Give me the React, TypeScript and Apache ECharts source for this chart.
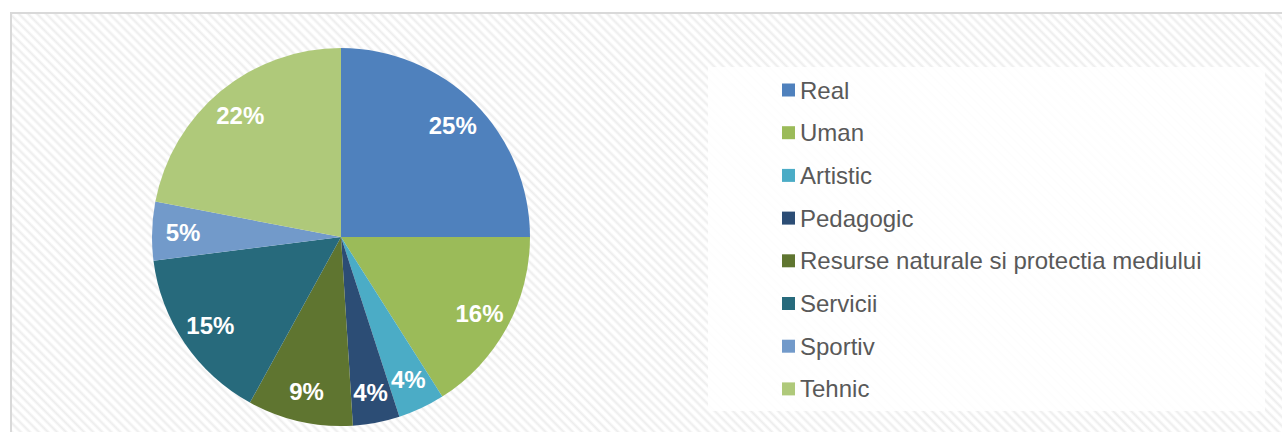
import React, { useEffect, useRef } from "react";
import * as echarts from "echarts";

const categories = [
  "Real",
  "Uman",
  "Artistic",
  "Pedagogic",
  "Resurse naturale si protectia mediului",
  "Servicii",
  "Sportiv",
  "Tehnic",
];
const values = [25, 16, 4, 4, 9, 15, 5, 22];
const colors = [
  "#4F81BD",
  "#9BBB59",
  "#4BACC6",
  "#2C4D75",
  "#5F7530",
  "#276A7C",
  "#729ACA",
  "#AFC97A",
];

export default function App() {
  const ref = useRef<HTMLDivElement>(null);

  useEffect(() => {
    document.body.style.margin = "0";
    if (!ref.current) return;
    const chart = echarts.init(ref.current, undefined, { renderer: "svg" });
    const data = categories.map((name, i) => ({
      name,
      value: values[i],
      itemStyle: { color: colors[i] },
    }));
    chart.setOption({
      animation: false,
      backgroundColor: "transparent",
      graphic: [
        {
          type: "rect",
          z: 0,
          silent: true,
          shape: { x: 708, y: 67, width: 557, height: 344 },
          style: { fill: "rgba(255,255,255,0.88)" },
        },
      ],
      legend: {
        orient: "vertical",
        left: 782,
        top: 78,
        padding: 0,
        itemWidth: 13,
        itemHeight: 13,
        itemGap: 18.7,
        icon: "rect",
        selectedMode: false,
        textStyle: {
          fontFamily: "Liberation Sans, Arial, sans-serif",
          fontSize: 24,
          lineHeight: 24,
          color: "#595959",
        },
        data: categories.map((name, i) => ({
          name,
          itemStyle: { color: colors[i] },
        })),
      },
      series: [
        {
          type: "pie",
          center: [341, 237],
          radius: [0, 189],
          startAngle: 90,
          clockwise: true,
          label: { show: false },
          labelLine: { show: false },
          emphasis: { disabled: true },
          data,
        },
        {
          type: "pie",
          center: [341, 237],
          radius: [0, 310],
          startAngle: 90,
          clockwise: true,
          silent: true,
          legendHoverLink: false,
          itemStyle: { color: "rgba(0,0,0,0)", borderWidth: 0 },
          emphasis: { disabled: true },
          labelLine: { show: false },
          label: {
            show: true,
            position: "inside",
            formatter: (p: any) => `${p.value}%`,
            color: "#FFFFFF",
            fontWeight: "bold",
            fontSize: 24,
            fontFamily: "Liberation Sans, Arial, sans-serif",
          },
          data: categories.map((name, i) => ({
            name: name + " ",
            value: values[i],
          })),
        },
      ],
    });
    return () => chart.dispose();
  }, []);

  return (
    <div
      style={{
        position: "relative",
        width: 1282,
        height: 432,
        overflow: "hidden",
        background: "#fff",
      }}
    >
      <div
        style={{
          position: "absolute",
          left: 10,
          top: 12,
          width: 1300,
          height: 450,
          border: "2px solid #D9D9D9",
          background:
            "repeating-linear-gradient(45deg, #ffffff 0px, #ffffff 1px, #ededed 3.2px, #ffffff 5.4px, #ffffff 6.4px)",
        }}
      />
      <div
        ref={ref}
        style={{ position: "absolute", left: 0, top: 0, width: 1282, height: 432 }}
      />
    </div>
  );
}
